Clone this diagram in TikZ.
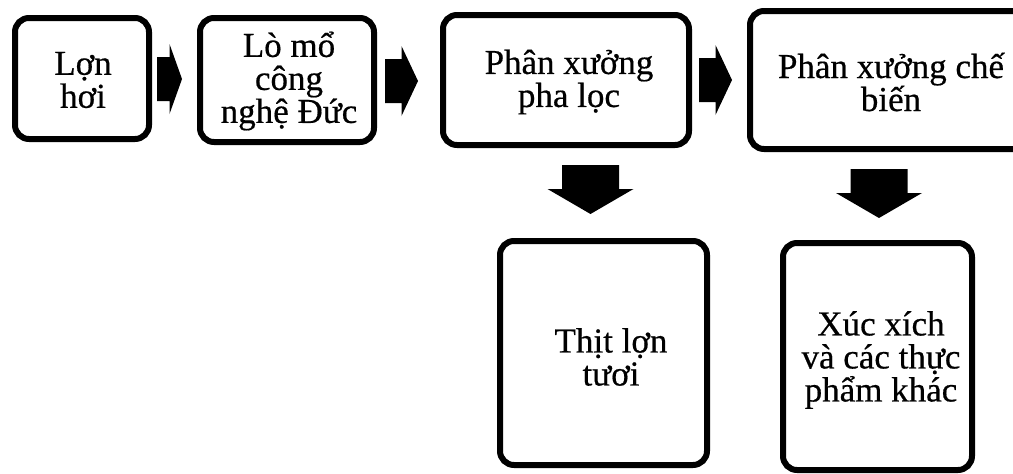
\documentclass[tikz,border=0pt]{standalone}
\usepackage{fontspec}
\setmainfont{Liberation Serif}
\newfontfamily\boxfont[FakeBold=0.5]{Liberation Serif}
\begin{document}
\begin{tikzpicture}[x=1pt,y=-1pt,
  stagebox/.style={draw=black, line width=6pt, rounded corners=14pt, fill=white,
    inner sep=0pt},
  label/.style={align=center, inner sep=0pt, font=\boxfont\fontsize{35}{33}\selectfont},
  % chunky right-pointing block arrow, #1 = overall length
  rblock/.pic={\fill[black] (0,-22) -- ({0.5*#1},-22) -- ({0.5*#1},-35) -- (#1,0)
      -- ({0.5*#1},35) -- ({0.5*#1},22) -- (0,22) -- cycle;},
  % down-pointing block arrow
  dblock/.pic={\fill[black] (-28.5,0) -- (28.5,0) -- (28.5,24) -- (43,24) -- (0,49)
      -- (-43,24) -- (-28.5,24) -- cycle;}
]
\useasboundingbox (0,0) rectangle (1013,474);

% top row of stages
\node[stagebox, minimum width=134pt, minimum height=121pt] (pig) at (82,78.5) {};
\node[stagebox, minimum width=174pt, minimum height=124pt] (slaughter) at (287,80) {};
\node[stagebox, minimum width=246pt, minimum height=130pt] (cutting) at (566,80) {};
\node[stagebox, minimum width=280pt, minimum height=138pt] (processing) at (890,80) {};

\node[label] (pigtext) at (83,80) {Lợn\\hơi};
\node[label] (slaughtertext) at (289,81) {Lò mổ\\công\\nghệ Đức};
\node[label] (cuttingtext) at (569,82) {Phân xưởng\\pha lọc};
\node[label] (processingtext) at (891,82) {Phân xưởng chế\\biến};

% products
\node[stagebox, minimum width=207pt, minimum height=224pt] (freshmeat) at (603.5,353) {};
\node[stagebox, minimum width=189pt, minimum height=227pt] (sausage) at (877.5,356.5) {};

\node[label] (freshmeattext) at (611,357) {Thịt lợn\\tươi};
\node[label] (sausagetext) at (881,360) {Xúc xích\\và các thực\\phẩm khác};

% block arrows between the stages
\coordinate (a1) at ([xshift=5pt]pig.east |- 0,79);
\coordinate (a2) at ([xshift=8pt]slaughter.east |- 0,81);
\coordinate (a3) at ([xshift=7pt]cutting.east |- 0,80);
\pic at (a1) {rblock=25};
\pic at (a2) {rblock=33};
\pic at (a3) {rblock=33};

\coordinate (d1) at (590.5,165);
\coordinate (d2) at (879,169);
\pic at (d1) {dblock};
\pic at (d2) {dblock};
\end{tikzpicture}
\end{document}
